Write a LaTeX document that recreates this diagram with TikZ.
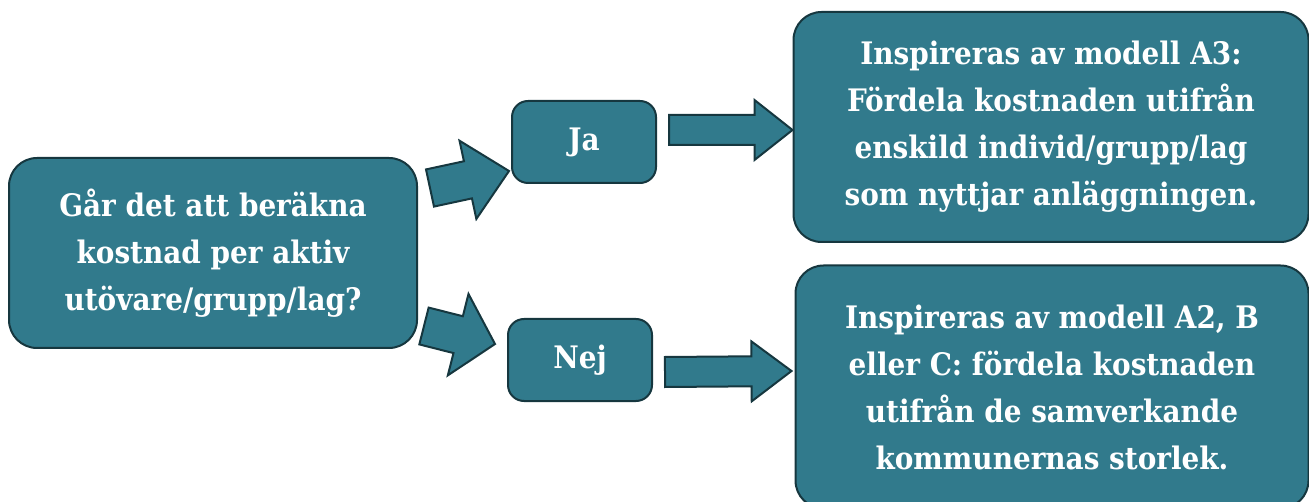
\documentclass[tikz,border=0pt]{standalone}
\usepackage{fontspec}
\setmainfont{DejaVu Serif Condensed}
\usetikzlibrary{calc}

\definecolor{boxteal}{RGB}{49,122,140}
\definecolor{boxedge}{RGB}{22,55,63}

\begin{document}
\begin{tikzpicture}[x=1pt,y=-1pt,
	box/.style={rectangle,draw=boxedge,fill=boxteal,line width=2pt,
		rounded corners=28pt,text=white,align=center,inner sep=0pt,
		font=\fontsize{31}{47}\selectfont\bfseries},
	small box/.style={box,rounded corners=16pt,minimum width=144pt,minimum height=82pt},
	fat arrow/.style n args={3}{draw=boxedge,fill=boxteal,line width=2pt,
		to path={($(\tikztotarget)!#3!(\tikztostart)$) coordinate (ah)
			($(\tikztostart)!#1!90:(\tikztotarget)$)
			-- ($(ah)!#1!-90:(\tikztostart)$) -- ($(ah)!#2!-90:(\tikztostart)$)
			-- (\tikztotarget)
			-- ($(ah)!#2!90:(\tikztostart)$) -- ($(ah)!#1!90:(\tikztostart)$)
			-- ($(\tikztostart)!#1!-90:(\tikztotarget)$) -- cycle}}]
	
	\useasboundingbox (0,0) rectangle (1309,502);
	
	\node[box,minimum width=408pt,minimum height=190pt] (q) at (213,253)
		{Går det att beräkna\\kostnad per aktiv\\utövare/grupp/lag?};
	\node[small box] (ja) at (584,142) {Ja};
	\node[small box] (nej) at (580,360) {Nej};
	\node[box,minimum width=515pt,minimum height=230pt] (a3) at (1051,127)
		{Inspireras av modell A3:\\Fördela kostnaden utifrån\\enskild individ/grupp/lag\\som nyttjar anläggningen.};
	\node[box,minimum width=513pt,minimum height=243pt] (a2) at (1052,387)
		{Inspireras av modell A2, B\\eller C: fördela kostnaden\\utifrån de samverkande\\kommunernas storlek.};
	
	% arrow ends
	\coordinate (t1) at ($(q.east)+(12,-65)$);
	\coordinate (p1) at ($(ja.south west)+(-2,-13)$);
	\coordinate (t2) at ($(q.east)+(6,73)$);
	\coordinate (p2) at ($(nej.west)+(-12,-16)$);
	\coordinate (t3) at ($(ja.east)+(12,-12)$);
	\coordinate (p3) at ($(a3.west)+(0,3)$);
	\coordinate (t4) at ($(nej.east)+(12,12)$);
	\coordinate (p4) at ($(a2.west)+(-3,-16)$);
	
	\draw[fat arrow={19pt}{40pt}{42pt}] (t1) to (p1);
	\draw[fat arrow={19pt}{42pt}{38pt}] (t2) to (p2);
	\draw[fat arrow={15pt}{30pt}{38pt}] (t3) to (p3);
	\draw[fat arrow={15pt}{30pt}{40pt}] (t4) to (p4);
\end{tikzpicture}
\end{document}
